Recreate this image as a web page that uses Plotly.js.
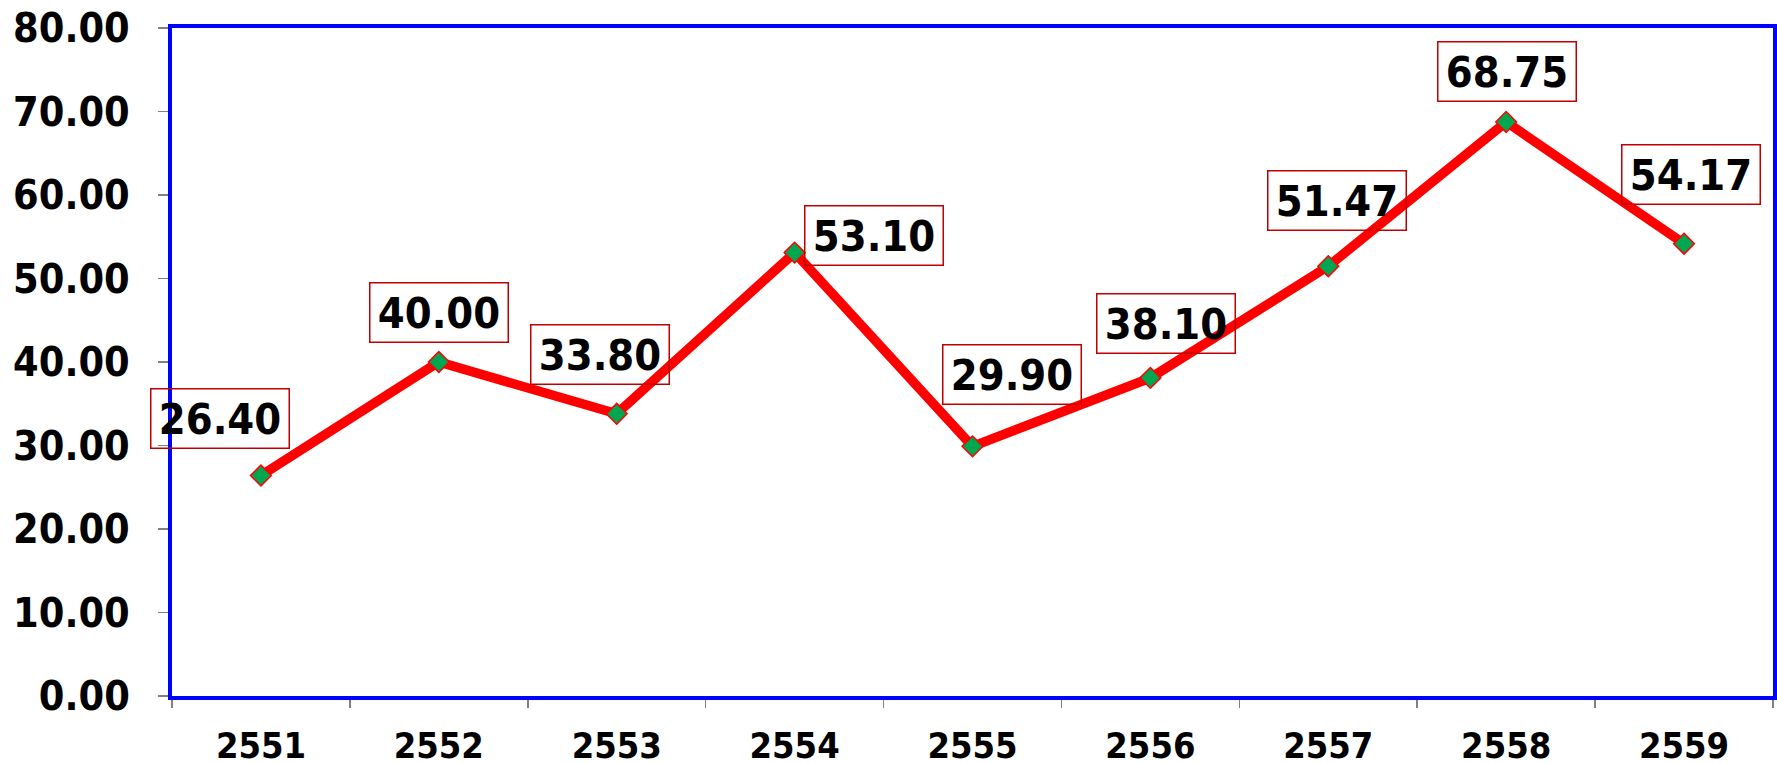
<!DOCTYPE html>
<html>
<head>
<meta charset="utf-8">
<script src="https://cdn.plot.ly/plotly-3.0.1.min.js"></script>
<style>html,body{margin:0;padding:0;background:#fff;}#chart{width:1777px;height:763px;}</style>
</head>
<body>
<div id="chart"></div>
<script>
var years = ["2551","2552","2553","2554","2555","2556","2557","2558","2559"];
var values = [26.40, 40.00, 33.80, 53.10, 29.90, 38.10, 51.47, 68.75, 54.17];
var labelShiftX = [-41, 0, -17, 79, 39, 16, 9, 1, 7];
var labelShiftY = [57, 50, 59, 17, 72, 54, 66, 50, 69];

var FONT = "'DejaVu Sans Condensed', 'DejaVu Sans', sans-serif";

var trace = {
  x: years, y: values, type: 'scatter', mode: 'lines+markers',
  line: {color: '#ff0000', width: 9.5},
  marker: {symbol: 'diamond', size: 16, color: '#00a650', line: {color: '#ff0000', width: 1.5}},
  hoverinfo: 'none', cliponaxis: false
};

var annotations = years.map(function(yr, i) {
  return {
    x: i, y: values[i], xref: 'x', yref: 'y',
    text: values[i].toFixed(2), showarrow: false,
    xshift: labelShiftX[i], yshift: labelShiftY[i],
    width: 129, align: 'center',
    font: {family: FONT, size: 43, color: '#000', weight: 'bold'},
    bordercolor: '#c00000', borderwidth: 1.5, borderpad: 4
  };
});

var layout = {
  width: 1777, height: 763,
  margin: {l: 172, r: 4, t: 28, b: 67},
  paper_bgcolor: '#fff', plot_bgcolor: '#fff',
  showlegend: false,
  xaxis: {
    type: 'category', tickson: 'boundaries', range: [-0.5, 8.5], autorange: false,
    showline: true, linecolor: '#0000ff', linewidth: 4, mirror: true,
    ticks: 'outside', ticklen: 8, tickwidth: 1.5, tickcolor: '#808080',
    showgrid: false, zeroline: false, tickangle: 0,
    ticklabelstandoff: 15,
    tickfont: {family: FONT, size: 36, color: '#000', weight: 'bold'}
  },
  yaxis: {
    range: [0, 80], autorange: false, dtick: 10, tick0: 0, tickformat: '.2f',
    showline: true, linecolor: '#0000ff', linewidth: 4, mirror: true,
    ticks: 'outside', ticklen: 10, tickwidth: 1.5, tickcolor: '#808080',
    showgrid: false, zeroline: false,
    ticklabelstandoff: 20,
    tickfont: {family: FONT, size: 41, color: '#000', weight: 'bold'}
  },
  annotations: annotations
};

Plotly.newPlot('chart', [trace], layout, {displayModeBar: false, staticPlot: true});
</script>
</body>
</html>
